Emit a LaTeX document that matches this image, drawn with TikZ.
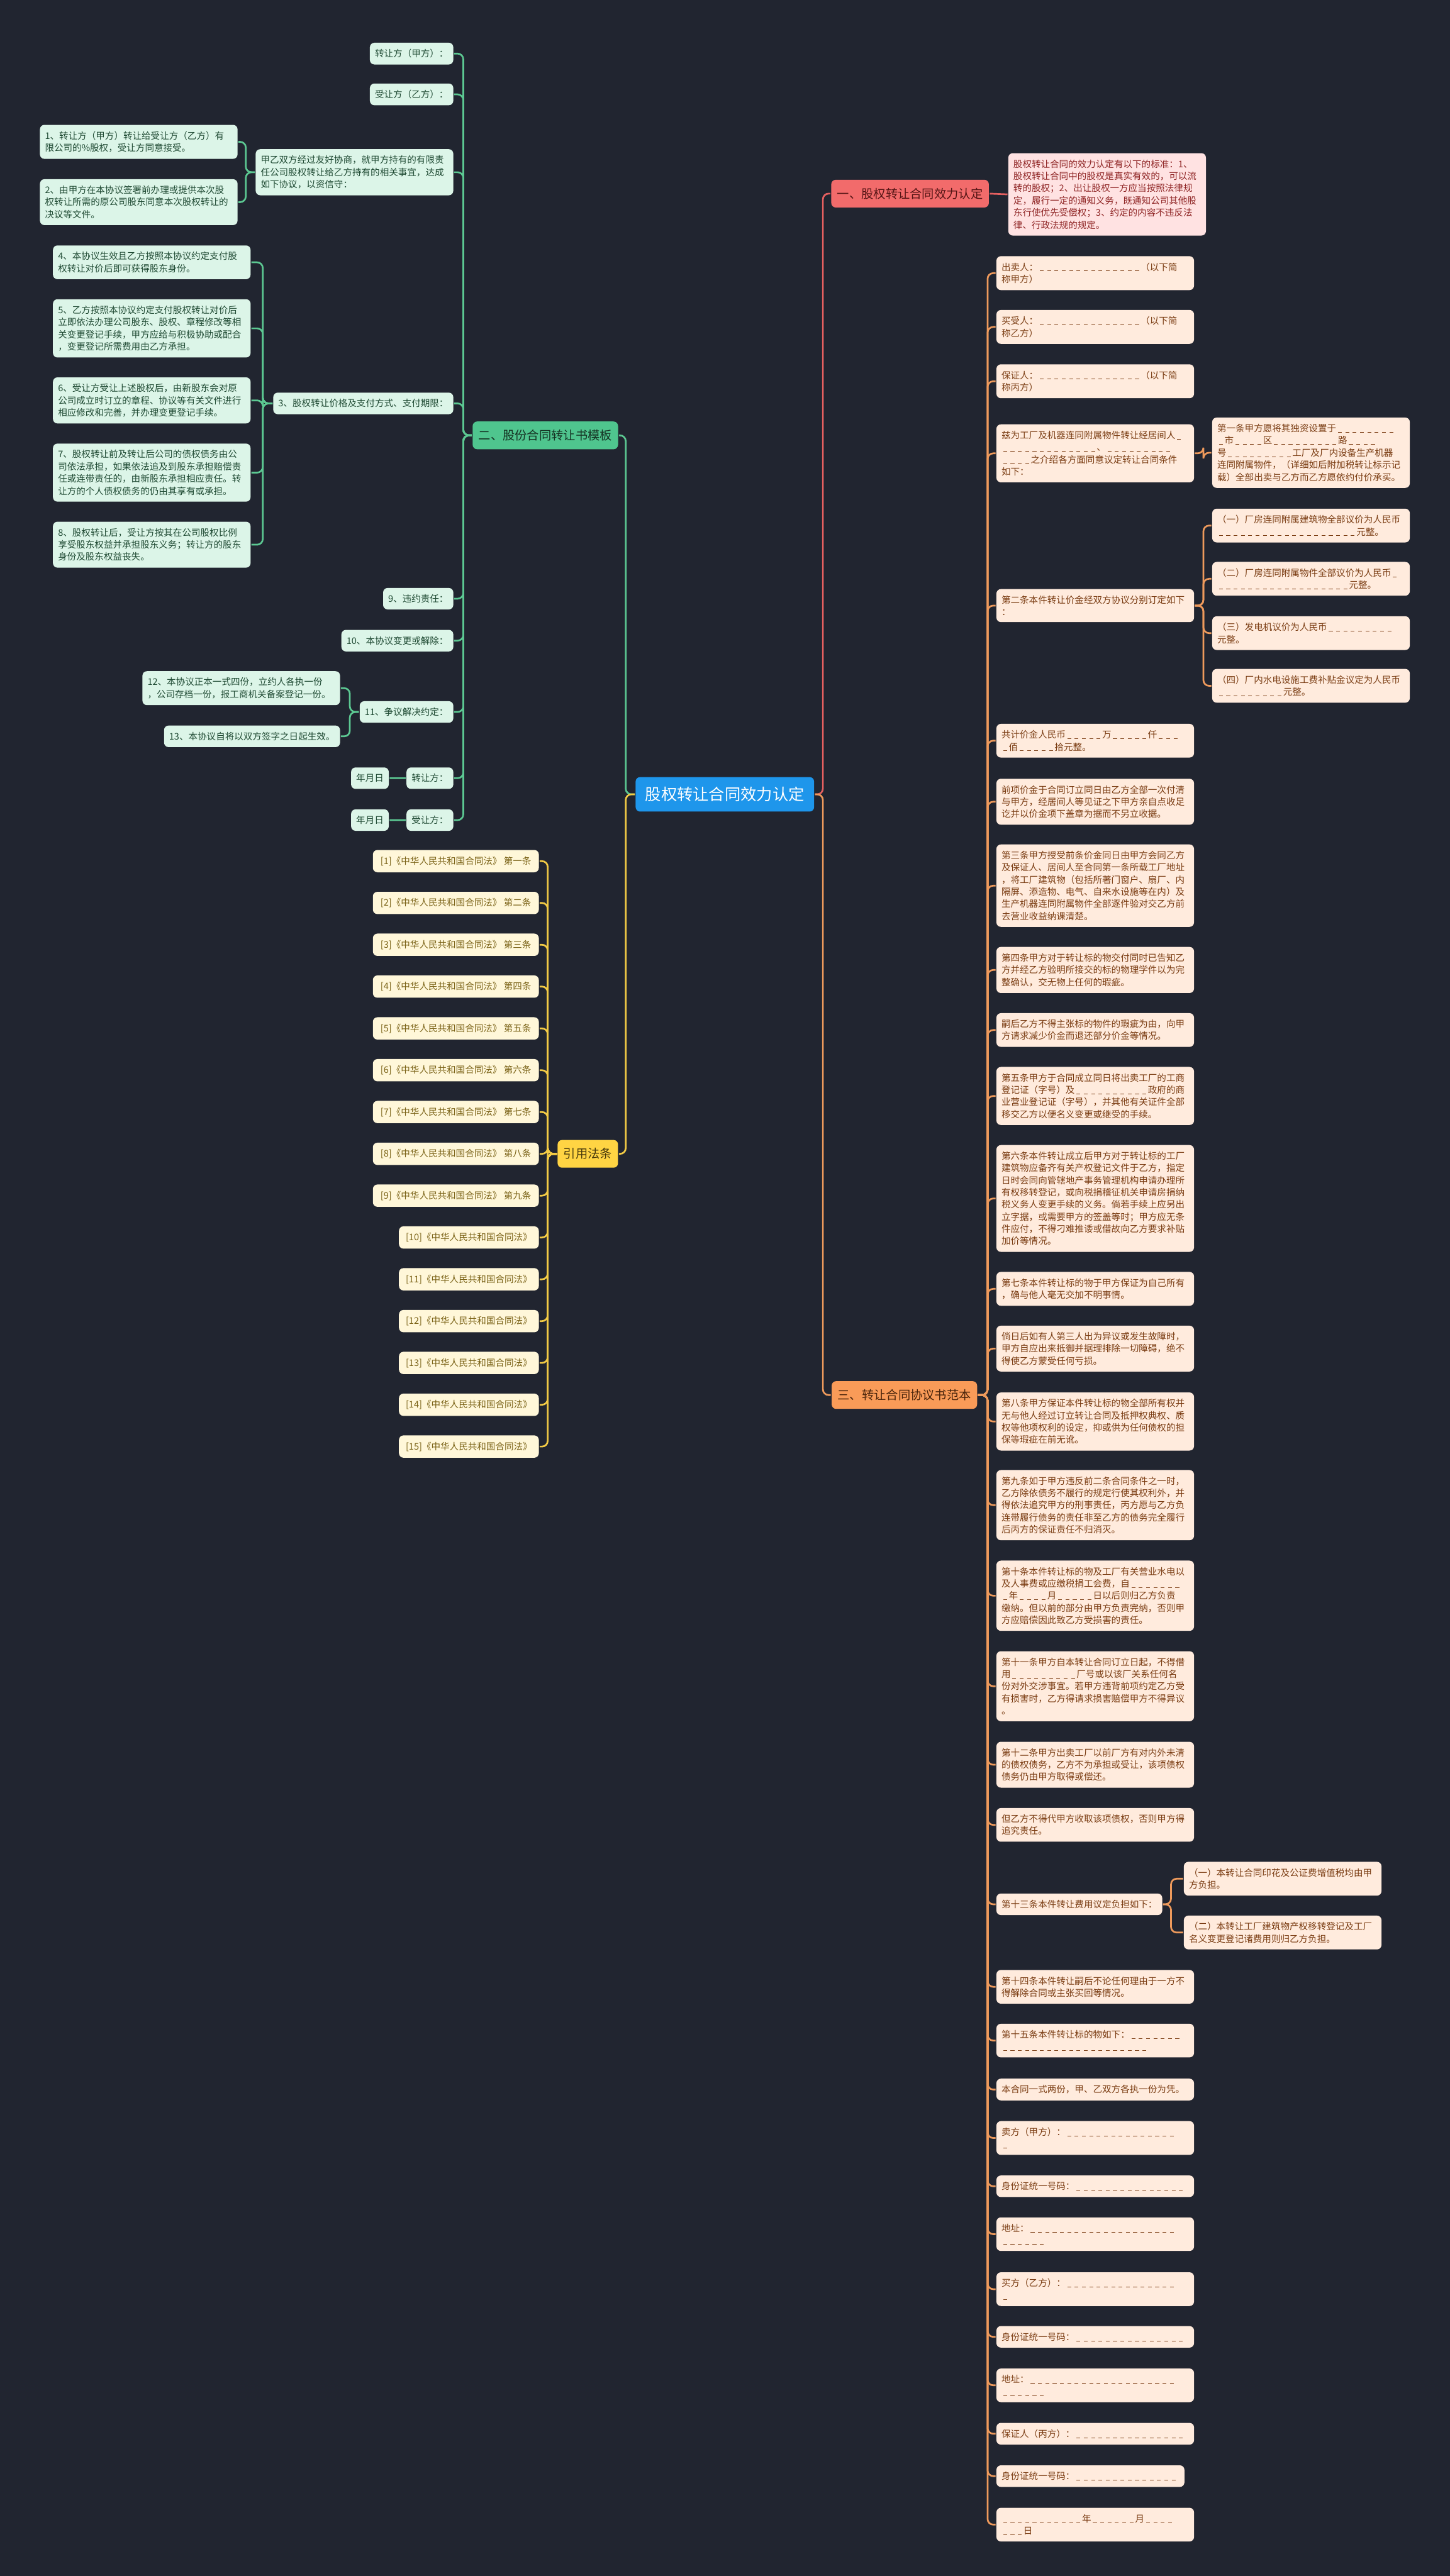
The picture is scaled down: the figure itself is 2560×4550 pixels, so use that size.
\documentclass[tikz,border=0pt]{standalone}
\usepackage{fontspec}
\setmainfont{Noto Sans CJK SC}
\usepackage{xcolor}
\usepackage{tikz}
\setlength{\parindent}{0pt}

\definecolor{bgc}{HTML}{212530}
\definecolor{rootc}{HTML}{1E96EB}
\definecolor{redc}{HTML}{F26B6B}
\definecolor{redl}{HTML}{FFE2E2}
\definecolor{redt}{HTML}{8E2323}
\definecolor{reline}{HTML}{E56060}
\definecolor{orc}{HTML}{F99B58}
\definecolor{orl}{HTML}{FFEBDD}
\definecolor{ort}{HTML}{7A3C12}
\definecolor{orline}{HTML}{EE9A5C}
\definecolor{grc}{HTML}{4FC58E}
\definecolor{grl}{HTML}{DCF5E8}
\definecolor{grt}{HTML}{1F4A33}
\definecolor{grline}{HTML}{5CC892}
\definecolor{yec}{HTML}{FFD443}
\definecolor{yel}{HTML}{FFF7D9}
\definecolor{yet}{HTML}{7A6216}
\definecolor{yeline}{HTML}{F3CB45}

\newcommand{\leaffont}{\fontsize{4.6}{6.12}\selectfont}
\newcommand{\sectfont}{\fontsize{6.1}{7.3}\selectfont}
\newcommand{\rootfont}{\fontsize{8}{9.6}\selectfont}
\newcommand{\dsh}{\makebox[0.8em][c]{\rule[-0.08em]{0.42em}{0.06em}}}
\newcommand{\blk}[1]{\foreach \ii in {1,...,#1}{\dsh}}

\begin{document}
\begin{tikzpicture}[x=0.1mm,y=-0.1mm,line width=0.3mm,
    root/.style={fill=rootc,text=white,rounded corners=0.8mm,font=\rootfont,inner xsep=1.7mm,minimum height=6.1mm},
    sect/.style={rounded corners=0.8mm,font=\sectfont,inner xsep=1.05mm,minimum height=4.9mm},
    leaf/.style={rounded corners=0.8mm,inner xsep=0.9mm,inner ysep=1.15mm,align=left,font=\leaffont},
    wide/.style={text width=33.1mm},
    gleaf/.style={leaf,fill=grl,text=grt,anchor=north east},
    oleaf/.style={leaf,fill=orl,text=ort,anchor=north west},
    rleaf/.style={leaf,fill=redl,text=redt,anchor=north west},
    yleaf/.style={leaf,fill=yel,text=yet,anchor=east},
    gline/.style={draw=grline,rounded corners=1mm},
    oline/.style={draw=orline,rounded corners=1mm},
    rline/.style={draw=reline,rounded corners=1mm},
    yline/.style={draw=yeline,rounded corners=1mm}]
    % Background
    \fill[bgc] (0,0) rectangle (2560,4550);
    \useasboundingbox (0,0) rectangle (2560,4550);

    % Root
    \node[root] (root) at (1280,1403) {股权转让合同效力认定};

    % Branches
    \node[sect,fill=redc,text=redt!60!black] (sec1) at (1607,342) {一、股权转让合同效力认定};
    \node[sect,fill=grc,text=grt!70!black] (sec2) at (963,769) {二、股份合同转让书模板};
    \node[sect,fill=orc,text=ort!60!black] (sec3) at (1597,2464) {三、转让合同协议书范本};
    \node[sect,fill=yec,text=yet!60!black] (sec4) at (1038,2038) {引用法条};

    % Branch one
    \node[rleaf,wide] (r1) at (1779,269) {股权转让合同的效力认定有以下的标准：1、\\股权转让合同中的股权是真实有效的，可以流\\转的股权；2、出让股权一方应当按照法律规\\定，履行一定的通知义务，既通知公司其他股\\东行使优先受偿权；3、约定的内容不违反法\\律、行政法规的规定。};

    % Branch two
    \node[gleaf] (g1) at (802,74) {转让方（甲方）：};
    \node[gleaf] (g2) at (802,146) {受让方（乙方）：};
    \node[gleaf,wide] (g3) at (802,262) {甲乙双方经过友好协商，就甲方持有的有限责\\任公司股权转让给乙方持有的相关事宜，达成\\如下协议，以资信守：};
    \node[gleaf,wide] (g3a) at (421,219) {1、转让方（甲方）转让给受让方（乙方）有\\限公司的\%股权，受让方同意接受。};
    \node[gleaf,wide] (g3b) at (421,315) {2、由甲方在本协议签署前办理或提供本次股\\权转让所需的原公司股东同意本次股权转让的\\决议等文件。};
    \node[gleaf] (g4) at (802,692) {3、股权转让价格及支付方式、支付期限：};
    \node[gleaf,wide] (g4a) at (444,432) {4、本协议生效且乙方按照本协议约定支付股\\权转让对价后即可获得股东身份。};
    \node[gleaf,wide] (g4b) at (444,527) {5、乙方按照本协议约定支付股权转让对价后\\立即依法办理公司股东、股权、章程修改等相\\关变更登记手续，甲方应给与积极协助或配合\\，变更登记所需费用由乙方承担。};
    \node[gleaf,wide] (g4c) at (444,665) {6、受让方受让上述股权后，由新股东会对原\\公司成立时订立的章程、协议等有关文件进行\\相应修改和完善，并办理变更登记手续。};
    \node[gleaf,wide] (g4d) at (444,782) {7、股权转让前及转让后公司的债权债务由公\\司依法承担，如果依法追及到股东承担赔偿责\\任或连带责任的，由新股东承担相应责任。转\\让方的个人债权债务的仍由其享有或承担。};
    \node[gleaf,wide] (g4e) at (444,920) {8、股权转让后，受让方按其在公司股权比例\\享受股东权益并承担股东义务；转让方的股东\\身份及股东权益丧失。};
    \node[gleaf] (g5) at (802,1037) {9、违约责任：};
    \node[gleaf] (g6) at (802,1111) {10、本协议变更或解除：};
    \node[gleaf] (g7) at (802,1237) {11、争议解决约定：};
    \node[gleaf,wide] (g7a) at (602,1184) {12、本协议正本一式四份，立约人各执一份\\，公司存档一份，报工商机关备案登记一份。};
    \node[gleaf] (g7b) at (602,1280) {13、本协议自将以双方签字之日起生效。};
    \node[gleaf] (g8) at (802,1354) {转让方：};
    \node[gleaf] (g8a) at (688,1354) {年月日};
    \node[gleaf] (g9) at (802,1428) {受让方：};
    \node[gleaf] (g9a) at (688,1428) {年月日};

    % Branch three
    \node[oleaf,wide] (o1) at (1758,451) {出卖人：\blk{14}（以下简\\称甲方）};
    \node[oleaf,wide] (o2) at (1758,546) {买受人：\blk{14}（以下简\\称乙方）};
    \node[oleaf,wide] (o3) at (1758,642) {保证人：\blk{14}（以下简\\称丙方）};
    \node[oleaf,wide] (o4) at (1758,748) {兹为工厂及机器连同附属物件转让经居间人\dsh\\\blk{13}、\blk{9}\\\blk{4}之介绍各方面同意议定转让合同条件\\如下：};
    \node[oleaf,wide] (o4a) at (2139,736) {第一条甲方愿将其独资设置于\blk{8}\\\dsh 市\blk{4}区\blk{9}路\blk{4}\\号\blk{9}工厂及厂内设备生产机器\\连同附属物件，（详细如后附加税转让标示记\\载）全部出卖与乙方而乙方愿依约付价承买。};
    \node[oleaf,wide] (o5) at (1758,1039) {第二条本件转让价金经双方协议分别订定如下\\：};
    \node[oleaf,wide] (o5a) at (2139,897) {（一）厂房连同附属建筑物全部议价为人民币\\\blk{19}元整。};
    \node[oleaf,wide] (o5b) at (2139,991) {（二）厂房连同附属物件全部议价为人民币\dsh\\\blk{18}元整。};
    \node[oleaf,wide] (o5c) at (2139,1087) {（三）发电机议价为人民币\blk{9}\\元整。};
    \node[oleaf,wide] (o5d) at (2139,1180) {（四）厂内水电设施工费补贴金议定为人民币\\\blk{9}元整。};
    \node[oleaf,wide] (o6) at (1758,1277) {共计价金人民币\blk{5}万\blk{5}仟\blk{3}\\\dsh 佰\blk{5}拾元整。};
    \node[oleaf,wide] (o7) at (1758,1374) {前项价金于合同订立同日由乙方全部一次付清\\与甲方，经居间人等见证之下甲方亲自点收足\\讫并以价金项下盖章为据而不另立收据。};
    \node[oleaf,wide] (o8) at (1758,1490) {第三条甲方授受前条价金同日由甲方会同乙方\\及保证人、居间人至合同第一条所载工厂地址\\，将工厂建筑物（包括所著门窗户、扇厂、内\\隔屏、添造物、电气、自来水设施等在内）及\\生产机器连同附属物件全部逐件验对交乙方前\\去营业收益纳课清楚。};
    \node[oleaf,wide] (o9) at (1758,1671) {第四条甲方对于转让标的物交付同时已告知乙\\方并经乙方验明所接交的标的物理学件以为完\\整确认，交无物上任何的瑕疵。};
    \node[oleaf,wide] (o10) at (1758,1788) {嗣后乙方不得主张标的物件的瑕疵为由，向甲\\方请求减少价金而退还部分价金等情况。};
    \node[oleaf,wide] (o11) at (1758,1883) {第五条甲方于合同成立同日将出卖工厂的工商\\登记证（字号）及\blk{10}政府的商\\业营业登记证（字号），并其他有关证件全部\\移交乙方以便名义变更或继受的手续。};
    \node[oleaf,wide] (o12) at (1758,2021) {第六条本件转让成立后甲方对于转让标的工厂\\建筑物应备齐有关产权登记文件于乙方，指定\\日时会同向管辖地产事务管理机构申请办理所\\有权移转登记，或向税捐稽征机关申请房捐纳\\税义务人变更手续的义务。倘若手续上应另出\\立字据，或需要甲方的签盖等时；甲方应无条\\件应付，不得刁难推诿或借故向乙方要求补贴\\加价等情况。};
    \node[oleaf,wide] (o13) at (1758,2245) {第七条本件转让标的物于甲方保证为自己所有\\，确与他人毫无交加不明事情。};
    \node[oleaf,wide] (o14) at (1758,2340) {倘日后如有人第三人出为异议或发生故障时，\\甲方自应出来抵御并据理排除一切障碍，绝不\\得使乙方蒙受任何亏损。};
    \node[oleaf,wide] (o15) at (1758,2458) {第八条甲方保证本件转让标的物全部所有权并\\无与他人经过订立转让合同及抵押权典权、质\\权等他项权利的设定，抑或供为任何债权的担\\保等瑕疵在前无讹。};
    \node[oleaf,wide] (o16) at (1758,2595) {第九条如于甲方违反前二条合同条件之一时，\\乙方除依债务不履行的规定行使其权利外，并\\得依法追究甲方的刑事责任，丙方愿与乙方负\\连带履行债务的责任非至乙方的债务完全履行\\后丙方的保证责任不归消灭。};
    \node[oleaf,wide] (o17) at (1758,2755) {第十条本件转让标的物及工厂有关营业水电以\\及人事费或应缴税捐工会费，自\blk{7}\\\dsh 年\blk{4}月\blk{5}日以后则归乙方负责\\缴纳。但以前的部分由甲方负责完纳，否则甲\\方应赔偿因此致乙方受损害的责任。};
    \node[oleaf,wide] (o18) at (1758,2915) {第十一条甲方自本转让合同订立日起，不得借\\用\blk{9}厂号或以该厂关系任何名\\份对外交涉事宜。若甲方违背前项约定乙方受\\有损害时，乙方得请求损害赔偿甲方不得异议\\。};
    \node[oleaf,wide] (o19) at (1758,3075) {第十二条甲方出卖工厂以前厂方有对内外未清\\的债权债务，乙方不为承担或受让，该项债权\\债务仍由甲方取得或偿还。};
    \node[oleaf,wide] (o20) at (1758,3192) {但乙方不得代甲方收取该项债权，否则甲方得\\追究责任。};
    \node[oleaf] (o21) at (1758,3343) {第十三条本件转让费用议定负担如下：};
    \node[oleaf,wide] (o21a) at (2089,3287) {（一）本转让合同印花及公证费增值税均由甲\\方负担。};
    \node[oleaf,wide] (o21b) at (2089,3382) {（二）本转让工厂建筑物产权移转登记及工厂\\名义变更登记诸费用则归乙方负担。};
    \node[oleaf,wide] (o22) at (1758,3478) {第十四条本件转让嗣后不论任何理由于一方不\\得解除合同或主张买回等情况。};
    \node[oleaf,wide] (o23) at (1758,3573) {第十五条本件转让标的物如下：\blk{7}\\\blk{20}};
    \node[oleaf,wide] (o24) at (1758,3670) {本合同一式两份，甲、乙双方各执一份为凭。};
    \node[oleaf,wide] (o25) at (1758,3745) {卖方（甲方）：\blk{15}\\\dsh};
    \node[oleaf,wide] (o26) at (1758,3841) {身份证统一号码：\blk{15}};
    \node[oleaf,wide] (o27) at (1758,3915) {地址：\blk{20}\\\blk{6}};
    \node[oleaf,wide] (o28) at (1758,4012) {买方（乙方）：\blk{15}\\\dsh};
    \node[oleaf,wide] (o29) at (1758,4107) {身份证统一号码：\blk{15}};
    \node[oleaf,wide] (o30) at (1758,4182) {地址：\blk{20}\\\blk{6}};
    \node[oleaf,wide] (o31) at (1758,4278) {保证人（丙方）：\blk{15}};
    \node[oleaf,text width=31.4mm] (o32) at (1758,4353) {身份证统一号码：\blk{14}};
    \node[oleaf,wide] (o33) at (1758,4428) {\blk{11}年\blk{6}月\blk{4}\\\blk{3}日};

    % Branch four
    \foreach \k/\nm in {1/一,2/二,3/三,4/四,5/五,6/六,7/七,8/八,9/九}
        \node[yleaf,minimum width=29.3mm] (y\k) at (953,{1521+73.86*(\k-1)}) {[\k]《中华人民共和国合同法》 第\nm 条};
    \foreach \k in {10,...,15}
        \node[yleaf,minimum width=24.7mm] (y\k) at (953,{1521+73.86*(\k-1)}) {[\k]《中华人民共和国合同法》};

    % Connectors
    \draw[rline] (root.east) -- ++(14,0) |- (sec1.west);
    \draw[oline] (root.east) -- ++(14,0) |- (sec3.west);
    \draw[gline] (root.west) -- ++(-16,0) |- (sec2.east);
    \draw[yline] (root.west) -- ++(-16,0) |- (sec4.east);
    \draw[rline] (sec1.east) -- (r1.west);
    \foreach \c in {g1,g2,g3,g4,g5,g6,g7,g8,g9}
        \draw[gline] (sec2.west) -- ++(-15,0) |- (\c.east);
    \foreach \c in {g3a,g3b}
        \draw[gline] (g3.west) -- ++(-16,0) |- (\c.east);
    \foreach \c in {g4a,g4b,g4c,g4d,g4e}
        \draw[gline] (g4.west) -- ++(-17,0) |- (\c.east);
    \foreach \c in {g7a,g7b}
        \draw[gline] (g7.west) -- ++(-16,0) |- (\c.east);
    \draw[gline] (g8.west) -- (g8a.east);
    \draw[gline] (g9.west) -- (g9a.east);
    \foreach \i in {1,...,33}
        \draw[oline] (sec3.east) -- ++(17,0) |- (o\i.west);
    \draw[oline] (o4.east) -- ++(15,0) |- (o4a.west);
    \foreach \c in {o5a,o5b,o5c,o5d}
        \draw[oline] (o5.east) -- ++(15,0) |- (\c.west);
    \foreach \c in {o21a,o21b}
        \draw[oline] (o21.east) -- ++(14,0) |- (\c.west);
    \foreach \k in {1,...,15}
        \draw[yline] (sec4.west) -- ++(-16,0) |- (y\k.east);
\end{tikzpicture}
\end{document}
